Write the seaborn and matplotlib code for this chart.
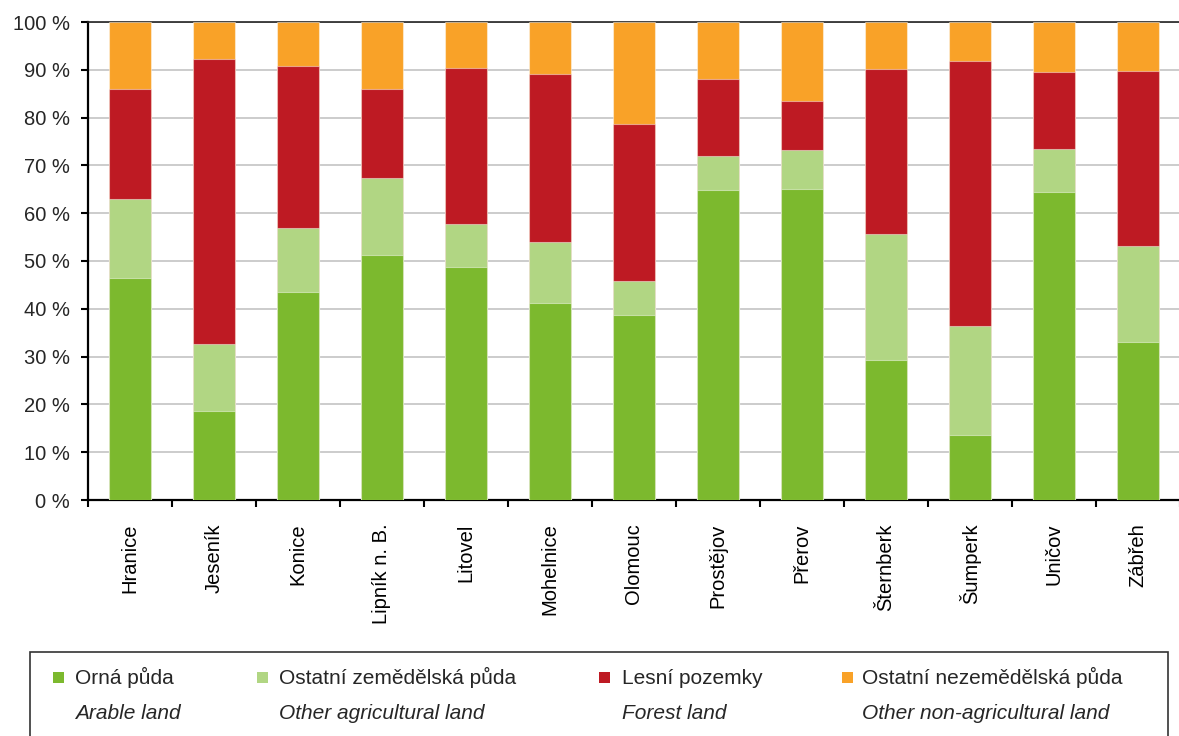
import numpy as np
import pandas as pd
import matplotlib
matplotlib.use("Agg")
import matplotlib.pyplot as plt
from matplotlib.patches import Rectangle
import seaborn as sns

categories = ["Hranice", "Jeseník", "Konice", "Lipník n. B.", "Litovel", "Mohelnice",
              "Olomouc", "Prostějov", "Přerov", "Šternberk", "Šumperk", "Uničov", "Zábřeh"]
arable = [46.5, 18.6, 43.5, 51.3, 48.7, 41.2, 38.7, 64.9, 65.1, 29.3, 13.6, 64.4, 33.1]
other_agri = [16.5, 14.0, 13.3, 16.1, 9.0, 12.8, 7.1, 7.1, 8.1, 26.3, 22.8, 9.0, 20.0]
forest = [23.0, 59.7, 34.0, 18.6, 32.7, 35.1, 32.9, 16.1, 10.3, 34.6, 55.4, 16.1, 36.6]
other_nonagri = [14.0, 7.7, 9.2, 14.0, 9.6, 10.9, 21.3, 11.9, 16.5, 9.8, 8.2, 10.5, 10.3]

series_cz = ["Orná půda", "Ostatní zemědělská půda", "Lesní pozemky", "Ostatní nezemědělská půda"]
series_en = ["Arable land", "Other agricultural land", "Forest land", "Other non-agricultural land"]
colors = ["#7cb92e", "#b1d683", "#be1a23", "#f9a228"]
ytick_labels = [f"{v} %" for v in range(0, 101, 10)]

sns.set_theme(style="white")
plt.rcParams['font.family'] = ['Liberation Sans', 'DejaVu Sans']

df = pd.DataFrame({"cat": categories, "a": arable, "b": other_agri, "c": forest, "d": other_nonagri})
df["c1"] = df["a"]
df["c2"] = df["c1"] + df["b"]
df["c3"] = df["c2"] + df["c"]
df["c4"] = df["c3"] + df["d"]

W, H = 1179, 736
fig = plt.figure(figsize=(W / 100, H / 100), dpi=100)
ax = fig.add_axes([88 / W, 236 / H, 1092 / W, 478 / H])

for col, colr in zip(["c4", "c3", "c2", "c1"], colors[::-1]):
    sns.barplot(data=df, x="cat", y=col, order=categories, color=colr, width=0.5,
                saturation=1, ax=ax, zorder=3)
for p in ax.patches:
    p.set_edgecolor((1, 1, 1, 0.45))
    p.set_linewidth(0.8)

ax.set_xlim(-0.5, 12.5)
ax.set_ylim(0, 100)
ax.set_xlabel("")
ax.set_ylabel("")
ax.set_yticks(range(0, 101, 10))
ax.set_yticklabels(ytick_labels, fontsize=14.5)
ax.set_xticks(range(len(categories)))
ax.set_xticklabels(categories, rotation=90, fontsize=14.5, va="top", ha="center")
ax.set_xticks(np.arange(-0.5, 13, 1), minor=True)
ax.tick_params(axis="x", which="major", length=0, pad=17, colors="black")
ax.tick_params(axis="x", which="minor", length=5, width=1.5, direction="out", color="black", bottom=True)
ax.tick_params(axis="y", which="major", length=5, width=1.5, direction="out", color="black", left=True, pad=8)
ax.yaxis.grid(True, color="#c8c8c8", linewidth=1.3)
ax.set_axisbelow(True)
for s in ["left", "bottom"]:
    ax.spines[s].set_color("black")
    ax.spines[s].set_linewidth(1.6)
ax.spines["top"].set_color("#222222")
ax.spines["top"].set_linewidth(1.2)
ax.spines["right"].set_visible(False)

def fx(px):
    return px / W

def fy(py):
    return 1 - py / H

fig.patches.append(Rectangle((fx(30), fy(745)), fx(1168) - fx(30), fy(652) - fy(745),
                             transform=fig.transFigure, fill=False, edgecolor="#333333",
                             linewidth=1.2, clip_on=False))
marker_x = [53, 257, 599, 842]
text_x = [75, 279, 622, 862]
for i in range(4):
    fig.patches.append(Rectangle((fx(marker_x[i]), fy(683)), fx(11), 11 / H,
                                 transform=fig.transFigure, facecolor=colors[i],
                                 edgecolor="none"))
    fig.text(fx(text_x[i]), fy(684), series_cz[i], fontsize=15, va="baseline", ha="left")
    fig.text(fx(text_x[i]), fy(719), series_en[i], fontsize=15, va="baseline", ha="left",
             style="italic")

fig.savefig("out.png", dpi=100)
